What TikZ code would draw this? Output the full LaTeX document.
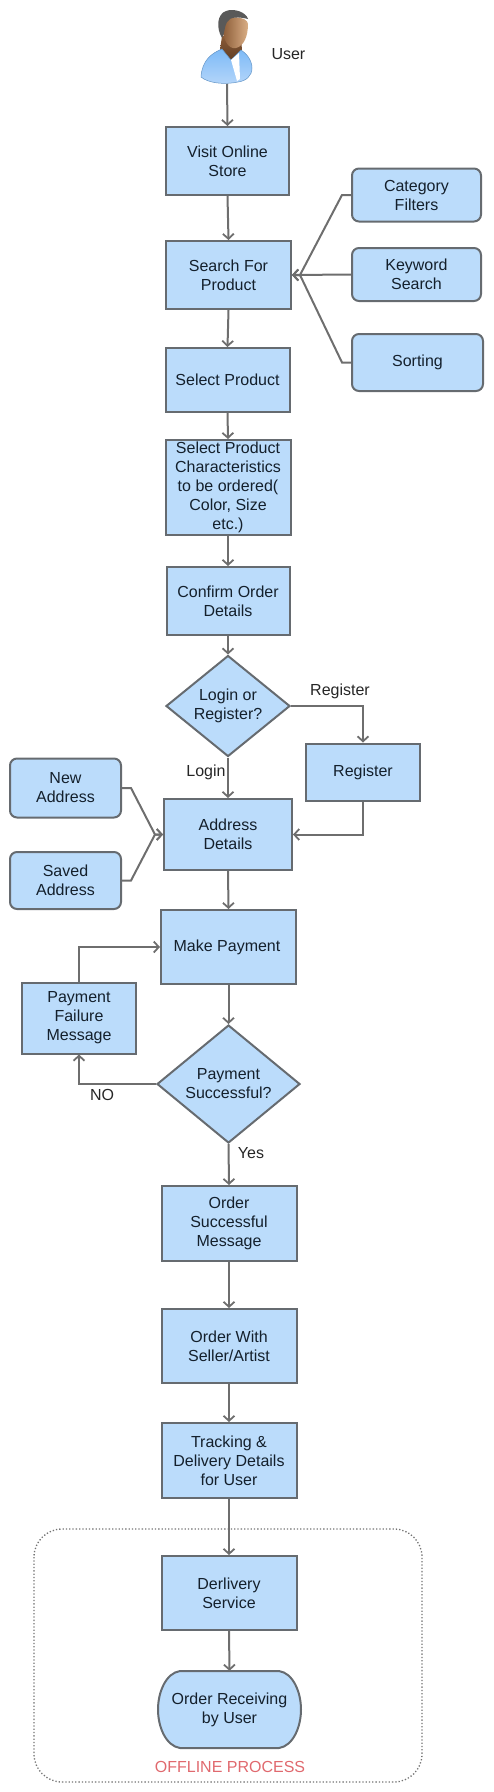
\documentclass[tikz,border=0pt]{standalone}
\usepackage{fontspec}
\setmainfont{Liberation Sans}
\usetikzlibrary{arrows.meta,shapes.geometric}
\definecolor{boxfill}{HTML}{BBDCFB}
\definecolor{boxline}{HTML}{666B70}
\definecolor{arrowc}{HTML}{6E6E6E}
\definecolor{labeltxt}{HTML}{14202C}
\definecolor{offred}{HTML}{E0696E}
\definecolor{shirtA}{HTML}{B5D6FA}
\definecolor{shirtB}{HTML}{7DBAF7}
\definecolor{skinA}{HTML}{8A5A36}
\definecolor{skinB}{HTML}{D9AE85}
\tikzset{
  every node/.style={font=\fontsize{16}{19}\selectfont,text=labeltxt,align=center},
  base/.style={draw=boxline,fill=boxfill,line width=2pt,inner sep=0pt},
  pbox/.style={base,rectangle},
  rbox/.style={base,rounded corners=7pt},
  dbox/.style={base,diamond,aspect=1.25},
  conn/.style={draw=arrowc,line width=2pt,-{Straight Barb[length=5pt,width=11pt,line width=1.8pt]}},
  lbl/.style={text=black!85}
}
\newcommand{\bx}[7]{\node[#1,minimum width=#4pt,minimum height=#5pt] (#2) at (#6,#7) {#3};}
\begin{document}
\begin{tikzpicture}[x=1pt,y=-1pt]
\useasboundingbox (0,0) rectangle (493,1792);
% user icon
\shade[top color=skinA,bottom color=skinA!70!black] (222,36) -- (220,50) -- (231,60) -- (242,50) -- (241,38) -- cycle;
\shade[top color=shirtB,bottom color=shirtA,draw=shirtB!80!black,line width=.5pt]
 (222,49) .. controls (212,53) and (202,60) .. (201,77) .. controls (208,83) and (224,85) .. (238,82) .. controls (246,81) and (252,76) .. (252,68) .. controls (252,60) and (246,53) .. (241,50) -- (231,60) -- cycle;
\path[fill=white] (231,60) -- (239,53) -- (240,79) -- (237,81) -- cycle;
\shade[left color=skinA,right color=skinB] (222,24) .. controls (222,38) and (228,50) .. (236,48) .. controls (244,46) and (248,36) .. (248,24) .. controls (248,16) and (224,14) .. (222,24) -- cycle;
\fill[black!65] (222,38) .. controls (216,28) and (217,14) .. (226,11) .. controls (234,8) and (246,12) .. (248,19) .. controls (240,17) and (230,16) .. (227,22) .. controls (224,27) and (225,33) .. (222,38) -- cycle;
\coordinate (user) at (227,84);
\node[lbl,anchor=west] (userlbl) at (268,54.5) {User};
\bx{pbox}{visit}{Visit Online\\Store}{123}{68}{227.5}{161}
\bx{pbox}{search}{Search For\\Product}{125}{68}{228.5}{275}
\bx{pbox}{selp}{Select Product}{124}{64}{227.5}{380}
\bx{pbox}{selc}{Select Product\\Characteristics\\to be ordered(\\Color, Size\\etc.)}{125}{95}{228}{487.5}
\bx{pbox}{conf}{Confirm Order\\Details}{123}{68}{228}{601}
\bx{rbox}{cat}{Category\\Filters}{129}{53}{416.5}{195}
\bx{rbox}{key}{Keyword\\Search}{129}{53}{416.5}{274.5}
\bx{rbox}{sort}{Sorting}{131}{57}{417.5}{362.5}
\node[dbox,minimum width=124pt,minimum height=101pt] (login) at (228,706) {Login or\\Register?};
\bx{pbox}{reg}{Register}{114}{57}{363}{772}
\bx{pbox}{addr}{Address\\Details}{128}{71}{228}{834.5}
\bx{rbox}{newa}{New\\Address}{111}{59}{65.5}{788}
\bx{rbox}{sava}{Saved\\Address}{111}{57}{65.5}{880.5}
\bx{pbox}{pay}{Make Payment\hspace*{3pt}}{135}{74}{228.5}{947}
\bx{pbox}{fail}{Payment\\Failure\\Message}{114}{71}{79}{1018}
\node[dbox,minimum width=143pt,minimum height=118pt] (ps) at (228.5,1084) {Payment\\Successful?};
\bx{pbox}{succ}{Order\\Successful\\Message}{135}{75}{229}{1223.5}
\bx{pbox}{seller}{Order With\\Seller/Artist}{135}{74}{229}{1346}
\bx{pbox}{track}{Tracking \&\\Delivery Details\\for User}{135}{75}{229}{1460.5}
\bx{pbox}{deliv}{Derlivery\\Service}{135}{74}{229}{1593}
\draw[draw=boxline,fill=boxfill,line width=2pt] (180,1671) -- (279,1671) .. controls (293,1673) and (301,1692) .. (301,1709.5) .. controls (301,1727) and (293,1746) .. (279,1748) -- (180,1748) .. controls (166,1746) and (158,1727) .. (158,1709.5) .. controls (158,1692) and (166,1673) .. (180,1671) -- cycle;
\node[inner sep=0pt,minimum width=143pt,minimum height=77pt] (recv) at (229.5,1709.5) {Order Receiving\\by User};
\draw[draw=black!55,line width=1.3pt,dotted,rounded corners=28pt] (34,1529) rectangle (422,1782);
\node[text=offred] (off) at (230,1767) {OFFLINE PROCESS};
% connectors
\coordinate (mright) at (300,275);
\coordinate (mleft) at (155,834.5);
\draw[conn] (user) -- (visit.north);
\draw[conn] (visit.south) -- (search.north);
\draw[conn] (search.south) -- (selp.north);
\draw[conn] (selp.south) -- (selc.north);
\draw[conn] (selc.south) -- (conf.north);
\draw[conn] (conf.south) -- (login.north);
\draw[conn] (cat.west) -- ++(-9,0) -- (mright) -- (search.east);
\draw[conn] (key.west) -- (search.east);
\draw[conn] (sort.west) -- ++(-9,0) -- (mright) -- (search.east);
\draw[conn] (login.east) -| (reg.north);
\draw[conn] (reg.south) |- (addr.east);
\draw[conn] (login.south) -- (addr.north);
\draw[conn] (newa.east) -- ++(9,0) -- (mleft) -- (addr.west);
\draw[conn] (sava.east) -- ++(9,0) -- (mleft) -- (addr.west);
\draw[conn] (addr.south) -- (pay.north);
\draw[conn] (pay.south) -- (ps.north);
\draw[conn] (ps.west) -| (fail.south);
\draw[conn] (fail.north) |- (pay.west);
\draw[conn] (ps.south) -- (succ.north);
\draw[conn] (succ.south) -- (seller.north);
\draw[conn] (seller.south) -- (track.north);
\draw[conn] (track.south) -- (deliv.north);
\draw[conn] (deliv.south) -- (recv.north);
\node[lbl] (lreg) at (340,691) {Register};
\node[lbl] (llog) at (206,772.5) {Login};
\node[lbl] (lno) at (102,1095) {NO};
\node[lbl] (lyes) at (251,1153) {Yes};
\end{tikzpicture}
\end{document}
